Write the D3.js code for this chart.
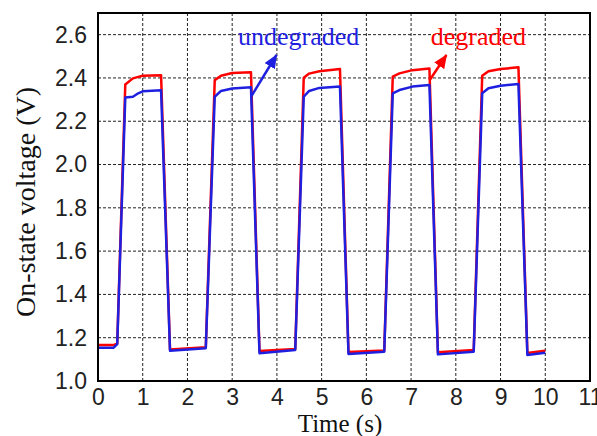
<!DOCTYPE html>
<html>
<head>
<meta charset="utf-8">
<script src="https://cdn.jsdelivr.net/npm/d3@7"></script>
<style>
  body { margin: 0; background: #fff; }
  svg { display: block; }
</style>
</head>
<body>
<div id="chart"></div>
<script>
'use strict';

// time samples (s), shared by both curves
var time = [0, 0.35, 0.43, 0.61, 0.78, 0.9, 1.0, 1.41,
            1.61, 2.41, 2.61, 2.75, 3.0, 3.42,
            3.61, 4.41, 4.6, 4.72, 4.95, 5.41,
            5.6, 6.4, 6.59, 6.74, 7.03, 7.41,
            7.6, 8.4, 8.59, 8.73, 9.0, 9.4,
            9.6, 10.0];

// on-state voltage (V)
var degraded = [1.166, 1.166, 1.174, 2.370, 2.398, 2.405, 2.410, 2.413,
                1.146, 1.156, 2.390, 2.410, 2.423, 2.426,
                1.139, 1.148, 2.401, 2.420, 2.431, 2.441,
                1.134, 1.141, 2.406, 2.421, 2.436, 2.444,
                1.133, 1.143, 2.410, 2.431, 2.441, 2.449,
                1.129, 1.140];

var undegraded = [1.154, 1.154, 1.170, 2.310, 2.313, 2.329, 2.338, 2.343,
                  1.140, 1.151, 2.313, 2.340, 2.351, 2.357,
                  1.128, 1.143, 2.313, 2.340, 2.354, 2.360,
                  1.125, 1.135, 2.329, 2.344, 2.360, 2.367,
                  1.123, 1.135, 2.329, 2.352, 2.364, 2.372,
                  1.120, 1.131];

var xTicks = [0, 1, 2, 3, 4, 5, 6, 7, 8, 9, 10, 11];
var yTicks = [1.0, 1.2, 1.4, 1.6, 1.8, 2.0, 2.2, 2.4, 2.6];

// annotations: label anchor and arrow (tail -> tip), in data units
var labelNames = ["undegraded", "degraded"];
var labelAt = [[3.13, 2.552], [7.44, 2.552]];
var arrowFrom = [[3.43, 2.316], [7.41, 2.388]];
var arrowTo = [[3.99, 2.506], [7.79, 2.506]];

var blue = "#1f1fe0";
var red = "#ff0000";

var width = 597, height = 436;
var margin = {top: 13, right: 7, bottom: 55, left: 98};

var x = d3.scaleLinear().domain([0, 11]).range([margin.left, width - margin.right]);
var y = d3.scaleLinear().domain([1.0, 2.7]).range([height - margin.bottom, margin.top]);

var svg = d3.select("#chart").append("svg")
    .attr("width", width)
    .attr("height", height);

// grid
svg.append("g")
    .selectAll("line")
    .data(xTicks.slice(1, -1))
    .enter().append("line")
    .attr("x1", function(d) { return x(d); })
    .attr("x2", function(d) { return x(d); })
    .attr("y1", y(1.0))
    .attr("y2", y(2.7))
    .attr("stroke", "#222")
    .attr("stroke-width", 1)
    .attr("stroke-dasharray", "3,2");

svg.append("g")
    .selectAll("line")
    .data(yTicks.slice(1))
    .enter().append("line")
    .attr("x1", x(0))
    .attr("x2", x(11))
    .attr("y1", function(d) { return y(d); })
    .attr("y2", function(d) { return y(d); })
    .attr("stroke", "#222")
    .attr("stroke-width", 1)
    .attr("stroke-dasharray", "3,2");

// axes (labels only, the frame is drawn below)
var xAxis = svg.append("g")
    .attr("transform", "translate(0," + y(1.0) + ")")
    .call(d3.axisBottom(x).tickValues(xTicks).tickSize(0).tickPadding(8).tickFormat(d3.format("d")));

var yAxis = svg.append("g")
    .attr("transform", "translate(" + x(0) + ",0)")
    .call(d3.axisLeft(y).tickValues(yTicks).tickSize(0).tickPadding(11).tickFormat(d3.format(".1f")));

[xAxis, yAxis].forEach(function(a) {
    a.select(".domain").remove();
    a.selectAll("text")
        .attr("fill", "#222")
        .style("font-family", "'Liberation Sans', Arial, sans-serif")
        .style("font-size", "23px");
});

// lines
var pts = function(vals) {
    return time.map(function(t, i) { return [t, vals[i]]; });
};
var line = d3.line()
    .x(function(d) { return x(d[0]); })
    .y(function(d) { return y(d[1]); });

svg.append("path")
    .datum(pts(degraded))
    .attr("d", line)
    .attr("fill", "none")
    .attr("stroke", red)
    .attr("stroke-width", 2.5)
    .attr("stroke-linejoin", "round");

svg.append("path")
    .datum(pts(undegraded))
    .attr("d", line)
    .attr("fill", "none")
    .attr("stroke", blue)
    .attr("stroke-width", 2.5)
    .attr("stroke-linejoin", "round");

// frame
svg.append("rect")
    .attr("x", x(0))
    .attr("y", y(2.7))
    .attr("width", x(11) - x(0))
    .attr("height", y(1.0) - y(2.7))
    .attr("fill", "none")
    .attr("stroke", "#000")
    .attr("stroke-width", 2);

// annotations
var colors = [blue, red];
var defs = svg.append("defs");
colors.forEach(function(c, i) {
    defs.append("marker")
        .attr("id", "head" + i)
        .attr("markerUnits", "userSpaceOnUse")
        .attr("viewBox", "0 0 14 12")
        .attr("refX", 13)
        .attr("refY", 6)
        .attr("markerWidth", 14)
        .attr("markerHeight", 12)
        .attr("orient", "auto")
        .append("path")
        .attr("d", "M0,0 L14,6 L0,12 Z")
        .attr("fill", c);
});

labelNames.forEach(function(name, i) {
    svg.append("line")
        .attr("x1", x(arrowFrom[i][0]))
        .attr("y1", y(arrowFrom[i][1]))
        .attr("x2", x(arrowTo[i][0]))
        .attr("y2", y(arrowTo[i][1]))
        .attr("stroke", colors[i])
        .attr("stroke-width", 2.5)
        .attr("marker-end", "url(#head" + i + ")");

    svg.append("text")
        .attr("x", x(labelAt[i][0]))
        .attr("y", y(labelAt[i][1]))
        .attr("fill", colors[i])
        .style("font-family", "'Liberation Serif', 'Times New Roman', serif")
        .style("font-size", "26px")
        .text(name);
});

// axis titles
svg.append("text")
    .attr("x", (x(0) + x(11)) / 2 - 4)
    .attr("y", 432)
    .attr("text-anchor", "middle")
    .attr("fill", "#111")
    .style("font-family", "'Liberation Serif', 'Times New Roman', serif")
    .style("font-size", "25px")
    .text("Time (s)");

svg.append("text")
    .attr("transform", "translate(35," + 202 + ") rotate(-90)")
    .attr("text-anchor", "middle")
    .attr("fill", "#111")
    .style("font-family", "'Liberation Serif', 'Times New Roman', serif")
    .style("font-size", "28px")
    .text("On-state voltage (V)");
</script>
</body>
</html>
